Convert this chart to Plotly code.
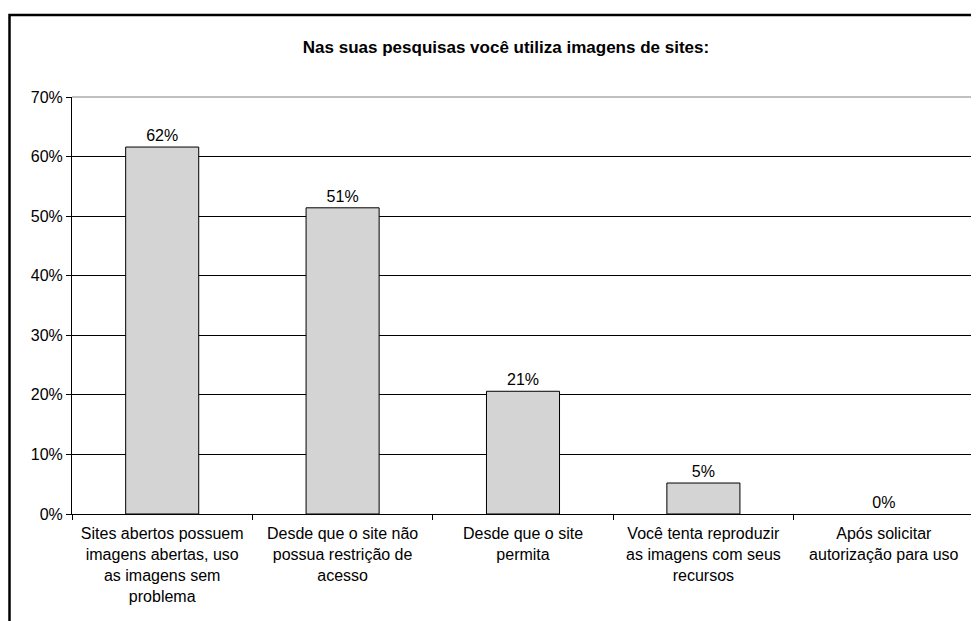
import plotly.graph_objects as go

categories = [
    "Sites abertos possuem<br>imagens abertas, uso<br>as imagens sem<br>problema",
    "Desde que o site não<br>possua restrição de<br>acesso",
    "Desde que o site<br>permita",
    "Você tenta reproduzir<br>as imagens com seus<br>recursos",
    "Após solicitar<br>autorização para uso",
]
values = [0.616, 0.514, 0.206, 0.052, 0.0]
labels = ["62%", "51%", "21%", "5%", "0%"]
title = "Nas suas pesquisas você utiliza imagens de sites:"
y_ticks = [0, 0.1, 0.2, 0.3, 0.4, 0.5, 0.6, 0.7]

FONT = "Liberation Sans, Arial, sans-serif"
FS = 16

# page has an 8px body margin; figure spans page x 8..979, y 8..621
W, H = 971, 613
ML, MR, MT, MB = 64, 5, 89, 107
PW = W - ML - MR
PH = H - MT - MB

fig = go.Figure(go.Bar(
    x=categories,
    y=values,
    text=labels,
    textposition="outside",
    textfont=dict(family=FONT, size=FS, color="black"),
    cliponaxis=False,
    width=0.405,
    marker=dict(
        color="white",
        line=dict(color="black", width=[1, 1, 1, 1, 0]),
        pattern=dict(shape=".", size=2, solidity=0.9, fgcolor="#a8a8a8", bgcolor="white"),
    ),
))

fig.update_layout(
    width=W, height=H,
    margin=dict(l=ML, r=MR, t=MT, b=MB),
    paper_bgcolor="white", plot_bgcolor="white",
    showlegend=False,
    font=dict(family=FONT, size=FS, color="black"),
    title=dict(text="<b>" + title + "</b>", x=(506 - 8) / W, xanchor="center", xref="container",
               y=1 - 39 / H, yanchor="middle",
               font=dict(family=FONT, size=17, color="black")),
)
fig.update_xaxes(
    showline=True, linecolor="black", linewidth=1,
    ticks="outside", tickson="boundaries", ticklen=5, tickcolor="black",
    tickfont=dict(family=FONT, size=FS, color="black"),
    ticklabelstandoff=5,
    showgrid=False,
)
fig.update_yaxes(
    range=[0, 0.7], tickvals=y_ticks, tickformat=".0%",
    showline=True, linecolor="black", linewidth=1,
    ticks="outside", ticklen=5, tickcolor="black",
    showgrid=True, gridcolor="black", gridwidth=1,
    zeroline=False,
    tickfont=dict(family=FONT, size=FS, color="black"),
)
# plot area border (gray top/right)
fig.add_shape(type="line", xref="paper", yref="paper", x0=0, x1=1, y0=1, y1=1,
              line=dict(color="#808080", width=1), layer="above")
fig.add_shape(type="line", xref="paper", yref="paper", x0=1, x1=1, y0=0, y1=1,
              line=dict(color="#808080", width=1), layer="above")
# outer chart border
fig.add_shape(type="rect", xref="paper", yref="paper",
              x0=(1.5 - ML) / PW, x1=1.05, y0=-0.5, y1=(PH + MT - 7) / PH,
              line=dict(color="black", width=2.5), fillcolor="rgba(0,0,0,0)", layer="below")

fig.write_html("out.html")
